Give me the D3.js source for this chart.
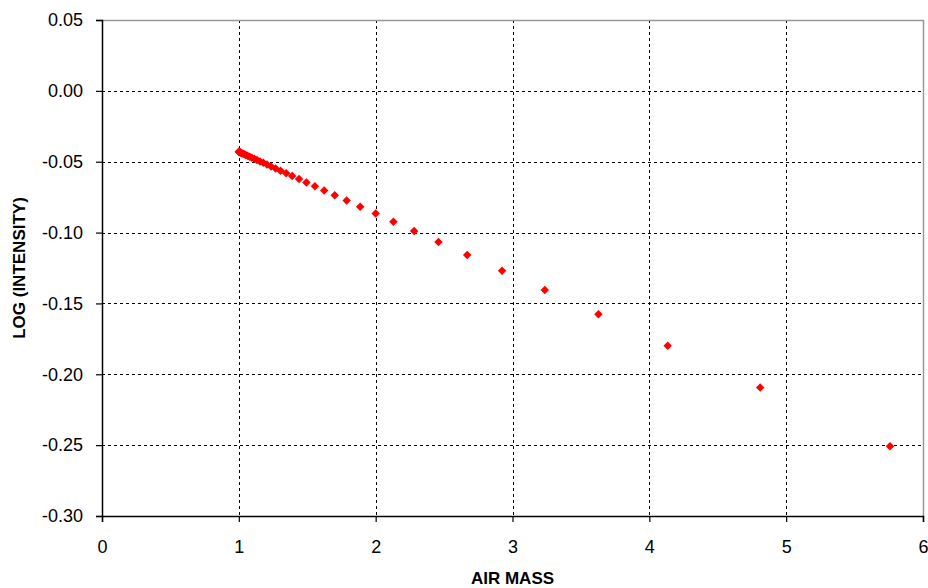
<!DOCTYPE html>
<html lang="en">
<head>
    <meta charset="UTF-8">
    <title>Log (Intensity) vs Air Mass</title>
    <script src="https://d3js.org/d3.v7.min.js"></script>
    <style>
        body {
            margin: 0;
            background-color: white;
        }
        .chart text {
            font-family: Arial, "Liberation Sans", sans-serif;
            fill: black;
        }
        .tick-label {
            font-size: 18px;
            fill: #111;
        }
        .axis-title {
            font-size: 17px;
            font-weight: bold;
        }
        .grid line {
            stroke: black;
            stroke-width: 1;
            stroke-dasharray: 3, 3;
        }
    </style>
</head>
<body>
    <svg class="chart" width="928" height="588"></svg>

    <script>
        // Air mass (x) and log intensity (y)
        const airMass = [
            1.000, 1.001, 1.002, 1.006, 1.010, 1.015, 1.022, 1.031, 1.040, 1.051,
            1.064, 1.079, 1.095, 1.113, 1.133, 1.155, 1.179, 1.206, 1.236, 1.269,
            1.305, 1.346, 1.390, 1.440, 1.494, 1.556, 1.624, 1.701, 1.788, 1.887,
            2.000, 2.130, 2.281, 2.459, 2.669, 2.924, 3.236, 3.628, 4.134, 4.810,
            5.759
        ];
        const logIntensity = [
            -0.0430, -0.0430, -0.0431, -0.0433, -0.0434, -0.0437, -0.0440, -0.0444, -0.0447, -0.0452,
            -0.0458, -0.0465, -0.0472, -0.0479, -0.0488, -0.0498, -0.0508, -0.0520, -0.0533, -0.0548,
            -0.0563, -0.0581, -0.0600, -0.0622, -0.0646, -0.0673, -0.0703, -0.0736, -0.0774, -0.0818,
            -0.0866, -0.0923, -0.0989, -0.1067, -0.1158, -0.1270, -0.1406, -0.1577, -0.1799, -0.2094,
            -0.2508
        ];
        const xTicks = [0, 1, 2, 3, 4, 5, 6];
        const yTicks = [0.05, 0.00, -0.05, -0.10, -0.15, -0.20, -0.25, -0.30];

        const margin = { top: 20, right: 5, bottom: 72, left: 102 },
              width = 928 - margin.left - margin.right,
              height = 588 - margin.top - margin.bottom;

        const svg = d3.select(".chart")
            .append("g")
            .attr("transform", `translate(${margin.left},${margin.top})`);

        const x = d3.scaleLinear().domain([0, 6]).range([0, width]);
        const y = d3.scaleLinear().domain([-0.30, 0.05]).range([height, 0]);

        // Gridlines (inner ticks only)
        svg.append("g")
            .attr("class", "grid")
            .selectAll("line")
            .data(yTicks.filter(d => d < 0.04 && d > -0.29))
            .join("line")
            .attr("x1", 0)
            .attr("x2", width)
            .attr("y1", d => Math.round(y(d)) + 0.5)
            .attr("y2", d => Math.round(y(d)) + 0.5);

        svg.append("g")
            .attr("class", "grid")
            .selectAll("line")
            .data(xTicks.filter(d => d > 0 && d < 6))
            .join("line")
            .attr("y1", 0)
            .attr("y2", height)
            .attr("x1", d => Math.round(x(d)) + 0.5)
            .attr("x2", d => Math.round(x(d)) + 0.5);

        // Plot frame: top and right in grey
        svg.append("path")
            .attr("d", `M0.5,0.5H${width + 0.5}V${height}`)
            .attr("fill", "none")
            .attr("stroke", "#999")
            .attr("stroke-width", 1.5);

        // Axes
        const xAxis = svg.append("g")
            .attr("transform", `translate(0,${height})`)
            .call(d3.axisBottom(x).tickValues(xTicks).tickFormat(d3.format("d"))
                .tickSizeOuter(0).tickSize(6).tickPadding(18));

        const yAxis = svg.append("g")
            .call(d3.axisLeft(y).tickValues(yTicks).tickFormat(d3.format(".2f"))
                .tickSizeOuter(0).tickSize(6).tickPadding(13));

        [xAxis, yAxis].forEach(g => {
            g.attr("font-size", null).attr("font-family", null);
            g.select(".domain").attr("stroke", "black").attr("stroke-width", 1.5);
            g.selectAll(".tick line").attr("stroke", "black").attr("stroke-width", 1.2);
            g.selectAll(".tick text").attr("class", "tick-label");
        });
        yAxis.selectAll(".tick text").text(d => d3.format(".2f")(d).replace("−", "-"));

        // Points
        const points = airMass.map((m, i) => ({ m: m, v: logIntensity[i] }));
        svg.append("g")
            .selectAll("path")
            .data(points)
            .join("path")
            .attr("d", d3.symbol().type(d3.symbolSquare).size(36))
            .attr("transform", d => `translate(${x(d.m)},${y(d.v)}) rotate(45)`)
            .attr("fill", "#ff0000");

        // Axis titles
        svg.append("text")
            .attr("class", "axis-title")
            .attr("x", width / 2)
            .attr("y", height + 68)
            .attr("text-anchor", "middle")
            .text("AIR MASS");

        svg.append("text")
            .attr("class", "axis-title")
            .attr("transform", `translate(${-77},${height / 2}) rotate(-90)`)
            .attr("text-anchor", "middle")
            .text("LOG (INTENSITY)");
    </script>
</body>
</html>
